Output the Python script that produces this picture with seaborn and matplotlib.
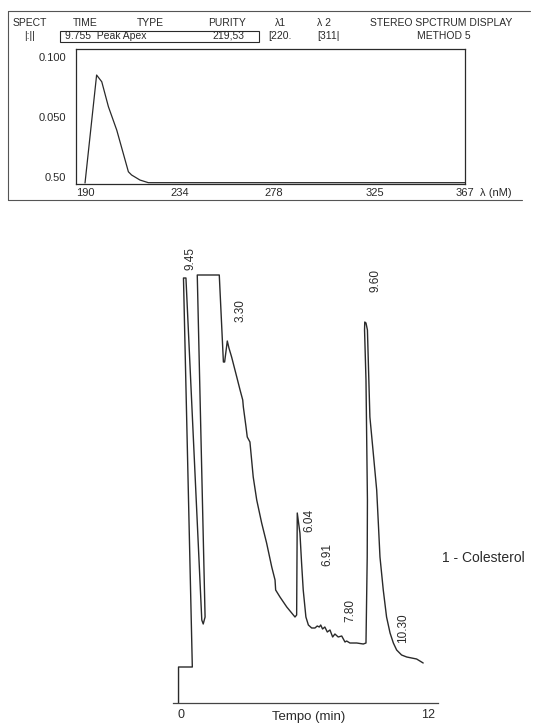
import matplotlib
matplotlib.use("Agg")
import matplotlib.pyplot as plt
import seaborn as sns
import pandas as pd
from matplotlib.lines import Line2D
from matplotlib.patches import Rectangle

# UV spectrum taken at the peak apex
spec_wl = [190, 195.4, 197.8, 200.9, 204.8, 210.2, 211.7, 215.6, 219.5, 367]
spec_abs = [-0.005, 0.085, 0.0794, 0.0586, 0.039, 0.0044, 0.0017, -0.0025, -0.0047, -0.0047]
spec_xticks = [190, 234, 278, 325, 367]
spec_yticks = [0.0, 0.05, 0.10]
spec_ylabels = ["0.50", "0.050", "0.100"]

# chromatogram (pen recorder trace, time goes back a little on steep flanks)
chrom_t = [-0.12, -0.12, 0.55, 0.12, 0.24, 1.01, 1.08, 1.17, 0.79, 1.86,
           2.06, 2.12, 2.25, 2.33, 2.46, 2.71, 2.87, 3.00, 3.03, 3.16,
           3.22, 3.35, 3.51, 3.68, 3.92, 4.16, 4.41, 4.57, 4.60, 4.81,
           5.14, 5.38, 5.54, 5.62, 5.65, 5.78, 5.86, 5.94, 6.07, 6.19,
           6.35, 6.51, 6.62, 6.72, 6.79, 6.88, 6.99, 7.11, 7.24, 7.37,
           7.48, 7.64, 7.81, 7.97, 8.05, 8.21, 8.54, 8.86, 8.99, 9.05,
           9.06, 8.99, 8.92, 8.93, 8.99, 9.06, 9.18, 9.33, 9.51, 9.59,
           9.67, 9.83, 9.99, 10.16, 10.32, 10.48, 10.72, 10.97, 11.45, 11.77]
chrom_sig = [0, 36, 36, 425, 425, 83, 79, 86, 428, 428,
             341, 341, 362, 355, 346, 326, 313, 303, 296, 276,
             266, 261, 226, 203, 180, 160, 136, 123, 113, 106,
             96, 90, 86, 88, 190, 170, 140, 113, 86, 78,
             75, 75, 77, 76, 78, 74, 76, 71, 73, 66,
             69, 66, 67, 61, 62, 60, 60, 59, 60, 146,
             203, 323, 373, 381, 380, 373, 286, 253, 213, 180,
             146, 113, 86, 70, 60, 53, 48, 46, 44, 40]

peak_labels = ["9.45", "3.30", "6.04", "6.91", "7.80", "9.60", "10.30"]
peak_lab_t = [0.44, 2.87, 6.22, 7.13, 8.25, 9.43, 10.77]
peak_lab_y = [444, 392, 183, 148, 93, 423, 75]

header_row1 = ["SPECT", "TIME", "TYPE", "PURITY", "λ1", "λ 2", "STEREO SPCTRUM DISPLAY"]
header_row2 = ["|:||", "9.755  Peak Apex", "219,53", "[220.", "[311|", "METHOD 5"]

sns.set_style("white")
plt.rcParams['font.family'] = ['Liberation Sans', 'DejaVu Sans']
ink = "#2a2a2a"

W, H = 533, 724
fig = plt.figure(figsize=(W / 100, H / 100), dpi=100)


def fx(x):
    return x / W


def fy(y):
    return 1 - y / H


# ---- spectrum panel ----
ax1 = fig.add_axes([fx(76), fy(184), (465 - 76) / W, (184 - 49) / H])
spec = pd.DataFrame({"wl": spec_wl, "abs": spec_abs})
sns.lineplot(data=spec, x="wl", y="abs", ax=ax1, sort=False, estimator=None,
             color=ink, linewidth=0.9)
ax1.set_xlim(185.8, 367)
ax1.set_ylim(-0.0058, 0.1067)
ax1.set_xticks(spec_xticks)
ax1.set_yticks(spec_yticks)
ax1.set_yticklabels(spec_ylabels)
ax1.tick_params(length=0, labelsize=8, colors=ink)
ax1.tick_params(axis="x", pad=3)
ax1.tick_params(axis="y", pad=7)
ax1.set_xlabel("")
ax1.set_ylabel("")
for sp in ax1.spines.values():
    sp.set_color(ink)
    sp.set_linewidth(0.9)
fig.text(fx(480), fy(193), "λ (nM)", fontsize=8, color=ink, va="center", ha="left")

# outer frame around header + spectrum
fig.add_artist(Line2D([fx(8), fx(530)], [fy(11), fy(11)], color="#555555", lw=0.8))
fig.add_artist(Line2D([fx(8), fx(8)], [fy(11), fy(200)], color="#555555", lw=0.8))
fig.add_artist(Line2D([fx(8), fx(522)], [fy(200), fy(200)], color="#555555", lw=0.8))

# header
row1_x = [13, 73, 137, 208, 275, 317, 370]
for txt, x in zip(header_row1, row1_x):
    fig.text(fx(x), fy(23), txt, fontsize=7.5, color=ink, va="center", ha="left")
row2_x = [24, 65, 212, 268, 317, 417]
for txt, x in zip(header_row2, row2_x):
    fig.text(fx(x), fy(36), txt, fontsize=7.5, color=ink, va="center", ha="left")
fig.add_artist(Rectangle((fx(60), fy(42)), (259 - 60) / W, 11 / H,
                         fill=False, edgecolor=ink, lw=0.8))

# ---- chromatogram ----
ax2 = fig.add_axes([fx(173), fy(703), (438 - 173) / W, (703 - 245) / H])
chrom = pd.DataFrame({"t": chrom_t, "sig": chrom_sig})
sns.lineplot(data=chrom, x="t", y="sig", ax=ax2, sort=False, estimator=None,
             color=ink, linewidth=1.0)
ax2.set_xlim(-0.389, 12.49)
ax2.set_ylim(0, 458)
for side in ["top", "right", "left"]:
    ax2.spines[side].set_visible(False)
ax2.spines["bottom"].set_color("#444444")
ax2.spines["bottom"].set_linewidth(0.9)
ax2.set_yticks([])
ax2.set_xticks([0, 12])
ax2.tick_params(axis="x", direction="inout", length=5, width=0.8, colors="#444444",
                labelsize=9, labelcolor=ink, pad=2)
ax2.set_xlabel("")
ax2.set_ylabel("")
fig.text(fx(309), fy(720), "Tempo (min)", fontsize=9.5, color=ink, ha="center", va="baseline")

for lab, t, y in zip(peak_labels, peak_lab_t, peak_lab_y):
    ax2.text(t, y, lab, rotation=90, fontsize=8.5, color=ink,
             ha="center", va="center", clip_on=False)
ax2.text(12.68, 145, "1 - Colesterol", fontsize=10, color=ink,
         ha="left", va="center", clip_on=False)

fig.savefig("out.png", dpi=100)
